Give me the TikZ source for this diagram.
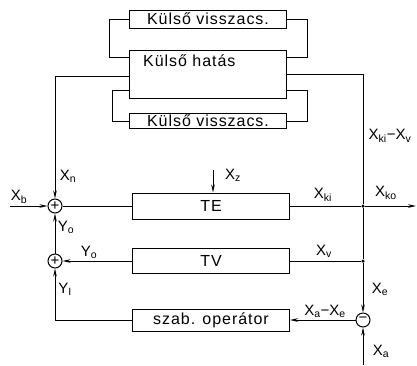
\documentclass[tikz,border=0pt]{standalone}
\usepackage{fontspec}
\setmainfont{Liberation Sans}
\newfontfamily\stencilfont[LetterSpace=6]{Liberation Sans}
\usetikzlibrary{arrows.meta,positioning,calc}

\begin{document}
\begin{tikzpicture}[x=1pt,y=-1pt,
  font=\fontsize{15}{17}\selectfont,
  >={Stealth[length=8pt,width=3.6pt]},
  blk/.style={draw, line width=1pt, minimum width=157pt, inner sep=0pt, font=\stencilfont\fontsize{16}{18}\selectfont},
  sumc/.style={draw, circle, line width=1pt, minimum size=14pt, inner sep=0pt},
  ln/.style={draw, line width=0.9pt},
  lbl/.style={inner sep=1pt},
  dot/.style={circle, fill, inner sep=0pt, minimum size=3.5pt},
]
\useasboundingbox (0,0) rectangle (417,365);
% ---------------- outer blocks ----------------
\node[blk, minimum height=18pt] (kvA) at (208,19) {Külső visszacs.};
\node[blk, minimum height=48pt] (hatas) at (208,74) {};
\node[lbl, anchor=west, font=\stencilfont\fontsize{16}{18}\selectfont] (hatasT) at (142,61) {Külső hatás};
\node[blk, minimum height=15pt] (kvB) at (208,121) {Külső visszacs.};
\coordinate (hLa) at ($(hatas.north west)+(0,8)$);
\coordinate (hRa) at ($(hatas.north east)+(0,8)$);
\coordinate (hLm) at ($(hatas.north west)+(0,27)$);
\coordinate (hRm) at ($(hatas.north east)+(0,25)$);
\coordinate (hLb) at ($(hatas.south west)+(0,-8)$);
\coordinate (hRb) at ($(hatas.south east)+(0,-8)$);
\draw[ln] (kvA.west) -- ++(-20,0) |- (hLa);
\draw[ln] (kvA.east) -- ++(20,0) |- (hRa);
\draw[ln] (hLb) -- ++(-17,0) |- (kvB.west);
\draw[ln] (hRb) -- ++(20,0) |- (kvB.east);
% ---------------- main loop ----------------
\node[blk, minimum height=26pt] (te) at (211,206) {TE};
\node[blk, minimum height=25pt] (tv) at (211,261) {TV};
\node[blk, minimum height=22pt] (szab) at (211,320) {szab. operátor};
\node[sumc] (s1) at (55,206) {+};
\node[sumc] (s2) at (55,261) {+};
\node[sumc] (mn) at (363,320) {−};
\node[dot] (j1) at (363,206) {};
\node[dot] (j2) at (363,261) {};
\coordinate (xbIn) at (10,206);
\coordinate (xkoOut) at (416,206);
\coordinate (xaIn) at (363,365);
\coordinate (xzIn) at (213,170);
\draw[ln,->] (xbIn) -- (s1);
\draw[ln] (s1) -- (te);
\draw[ln] (te) -- (j1);
\draw[ln,->] (j1) -- (xkoOut);
\draw[ln,->] (xzIn) -- (xzIn |- te.north);
\draw[ln,->] (hLm) -| (s1.north);
\draw[ln] (hRm) -| (j1);
\draw[ln] (j1) -- (j2);
\draw[ln] (tv) -- (j2);
\draw[ln,->] (j2) -- (mn);
\draw[ln,->] (xaIn) -- (mn);
\draw[ln,->] (mn) -- (szab);
\draw[ln,->] (tv) -- (s2);
\draw[ln,->] (s2) -- (s1);
\draw[ln,->] (szab.west) -| (s2.south);
% ---------------- labels ----------------
\node[lbl] (lXb) at (19,197) {X\textsubscript{b}};
\node[lbl] (lXn) at (68,176) {X\textsubscript{n}};
\node[lbl] (lYoA) at (66,227) {Y\textsubscript{o}};
\node[lbl] (lYoB) at (89,252) {Y\textsubscript{o}};
\node[lbl] (lYi) at (65,289) {Y\textsubscript{I}};
\node[lbl] (lXz) at (233,175) {X\textsubscript{z}};
\node[lbl] (lXki) at (323,195) {X\textsubscript{ki}};
\node[lbl] (lXko) at (386,193) {X\textsubscript{ko}};
\node[lbl] (lXkv) at (390,136) {X\textsubscript{ki}−X\textsubscript{v}};
\node[lbl] (lXv) at (324,251) {X\textsubscript{v}};
\node[lbl] (lXe) at (380,289) {X\textsubscript{e}};
\node[lbl] (lXae) at (325,311) {X\textsubscript{a}−X\textsubscript{e}};
\node[lbl] (lXa) at (381,351) {X\textsubscript{a}};
\end{tikzpicture}
\end{document}
